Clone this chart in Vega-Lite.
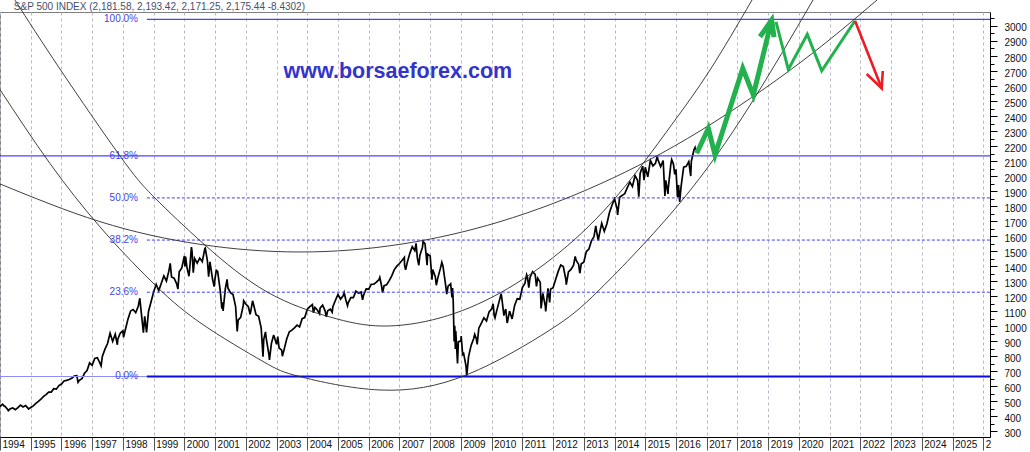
{
  "$schema": "https://vega.github.io/schema/vega-lite/v6.json",
  "autosize": {"type": "none"},
  "padding": {"left": 0, "top": 12, "right": 40, "bottom": 15},
  "width": 990,
  "height": 425,
  "background": "white",
  "resolve": {"axis": {"x": "independent", "y": "independent"}},
  "config": {"view": {"stroke": "#808080", "strokeWidth": 1},
    "axis": {"labelOverlap": false, "labelFlush": false, "title": null},
    "axisX": {"grid": true, "gridDash": [3, 3], "gridColor": "#b8b8c8", "gridWidth": 1, "tickSize": 13, "tickColor": "#555", "domainColor": "#000",
      "labelAlign": "left", "labelBaseline": "top", "labelPadding": -11, "labelOffset": 2, "labelFont": "Liberation Sans", "labelFontSize": 10, "labelColor": "#111"},
    "axisY": {"grid": false, "tickColor": "#000", "domainColor": "#000", "labelPadding": 7, "labelOffset": 2, "labelFont": "Liberation Sans", "labelFontSize": 10, "labelColor": "#111"}},
  "datasets": {
    "price": [
      {"t":1994.0,"v":466},{"t":1994.083,"v":481.6},{"t":1994.13,"v":470},{"t":1994.167,"v":467.1},{"t":1994.25,"v":445.8},{"t":1994.27,"v":438.9},{"t":1994.333,"v":450.9},{"t":1994.417,"v":456.5},{"t":1994.5,"v":444.3},{"t":1994.583,"v":458.3},{"t":1994.667,"v":475.5},{"t":1994.75,"v":462.7},{"t":1994.833,"v":472.4},{"t":1994.917,"v":453.7},{"t":1994.93,"v":449},{"t":1995.0,"v":459.3},
      {"t":1995.083,"v":470.4},{"t":1995.167,"v":487.4},{"t":1995.25,"v":500.7},{"t":1995.333,"v":514.7},{"t":1995.417,"v":533.4},{"t":1995.5,"v":544.8},{"t":1995.583,"v":562.1},{"t":1995.667,"v":561.9},{"t":1995.75,"v":584.4},{"t":1995.833,"v":581.5},{"t":1995.917,"v":605.4},{"t":1996.0,"v":615.9},
      {"t":1996.083,"v":636.0},{"t":1996.167,"v":640.4},{"t":1996.25,"v":645.5},{"t":1996.333,"v":654.2},{"t":1996.417,"v":669.1},{"t":1996.5,"v":670.6},{"t":1996.54,"v":626.7},{"t":1996.583,"v":639.9},{"t":1996.667,"v":652.0},{"t":1996.75,"v":687.3},{"t":1996.833,"v":705.3},{"t":1996.917,"v":757.0},{"t":1997.0,"v":740.7},
      {"t":1997.083,"v":786.2},{"t":1997.167,"v":790.8},{"t":1997.25,"v":757.1},{"t":1997.29,"v":737.7},{"t":1997.333,"v":801.3},{"t":1997.417,"v":848.3},{"t":1997.5,"v":885.1},{"t":1997.583,"v":954.3},{"t":1997.667,"v":899.5},{"t":1997.75,"v":947.3},{"t":1997.82,"v":877.0},{"t":1997.833,"v":914.6},{"t":1997.917,"v":955.4},{"t":1998.0,"v":970.4},
      {"t":1998.02,"v":927.7},{"t":1998.083,"v":980.3},{"t":1998.167,"v":1049.3},{"t":1998.25,"v":1101.8},{"t":1998.333,"v":1111.8},{"t":1998.417,"v":1090.8},{"t":1998.5,"v":1133.8},{"t":1998.55,"v":1186.8},{"t":1998.583,"v":1120.7},{"t":1998.667,"v":957.3},{"t":1998.71,"v":1066},{"t":1998.77,"v":959.4},{"t":1998.833,"v":1098.7},{"t":1998.917,"v":1163.6},{"t":1999.0,"v":1229.2},
      {"t":1999.083,"v":1279.6},{"t":1999.167,"v":1238.3},{"t":1999.25,"v":1286.4},{"t":1999.333,"v":1335.2},{"t":1999.417,"v":1301.8},{"t":1999.5,"v":1372.7},{"t":1999.54,"v":1418.8},{"t":1999.583,"v":1328.7},{"t":1999.667,"v":1320.4},{"t":1999.75,"v":1282.7},{"t":1999.79,"v":1247.4},{"t":1999.833,"v":1362.9},{"t":1999.917,"v":1389.0},{"t":2000.0,"v":1469.3},
      {"t":2000.02,"v":1399},{"t":2000.04,"v":1465},{"t":2000.083,"v":1394.5},{"t":2000.15,"v":1333.4},{"t":2000.167,"v":1366.4},{"t":2000.23,"v":1527.5},{"t":2000.25,"v":1498.6},{"t":2000.29,"v":1356.6},{"t":2000.333,"v":1452.4},{"t":2000.417,"v":1420.6},{"t":2000.5,"v":1454.6},{"t":2000.583,"v":1430.8},{"t":2000.667,"v":1517.7},{"t":2000.68,"v":1520.8},{"t":2000.75,"v":1436.5},{"t":2000.79,"v":1329.8},{"t":2000.833,"v":1429.4},{"t":2000.917,"v":1315.0},{"t":2000.97,"v":1264.7},{"t":2001.0,"v":1320.3},
      {"t":2001.04,"v":1373},{"t":2001.083,"v":1366.0},{"t":2001.167,"v":1239.9},{"t":2001.22,"v":1117.6},{"t":2001.25,"v":1160.3},{"t":2001.26,"v":1103},{"t":2001.333,"v":1249.5},{"t":2001.39,"v":1312.8},{"t":2001.417,"v":1255.8},{"t":2001.5,"v":1224.4},{"t":2001.583,"v":1211.2},{"t":2001.667,"v":1133.6},{"t":2001.72,"v":965.8},{"t":2001.75,"v":1040.9},{"t":2001.833,"v":1059.8},{"t":2001.917,"v":1139.5},{"t":2001.93,"v":1170},{"t":2002.0,"v":1148.1},
      {"t":2002.083,"v":1130.2},{"t":2002.14,"v":1080},{"t":2002.167,"v":1106.7},{"t":2002.22,"v":1170},{"t":2002.25,"v":1147.4},{"t":2002.333,"v":1076.9},{"t":2002.417,"v":1067.1},{"t":2002.5,"v":989.8},{"t":2002.56,"v":797.7},{"t":2002.583,"v":911.6},{"t":2002.64,"v":962.7},{"t":2002.667,"v":916.1},{"t":2002.75,"v":815.3},{"t":2002.77,"v":776.8},{"t":2002.833,"v":885.8},{"t":2002.9,"v":938},{"t":2002.917,"v":936.3},{"t":2003.0,"v":879.8},
      {"t":2003.04,"v":931.7},{"t":2003.083,"v":855.7},{"t":2003.167,"v":841.2},{"t":2003.19,"v":800.7},{"t":2003.25,"v":848.2},{"t":2003.333,"v":916.9},{"t":2003.417,"v":963.6},{"t":2003.5,"v":974.5},{"t":2003.583,"v":990.3},{"t":2003.667,"v":1008.0},{"t":2003.75,"v":996.0},{"t":2003.833,"v":1050.7},{"t":2003.917,"v":1058.2},{"t":2004.0,"v":1111.9},
      {"t":2004.083,"v":1131.1},{"t":2004.167,"v":1144.9},{"t":2004.2,"v":1091},{"t":2004.25,"v":1126.2},{"t":2004.333,"v":1107.3},{"t":2004.4,"v":1084},{"t":2004.417,"v":1120.7},{"t":2004.5,"v":1140.8},{"t":2004.583,"v":1101.7},{"t":2004.62,"v":1063.2},{"t":2004.667,"v":1104.2},{"t":2004.75,"v":1114.6},{"t":2004.81,"v":1094},{"t":2004.833,"v":1130.2},{"t":2004.917,"v":1173.8},{"t":2005.0,"v":1211.9},
      {"t":2005.083,"v":1181.3},{"t":2005.167,"v":1203.6},{"t":2005.2,"v":1225},{"t":2005.25,"v":1180.6},{"t":2005.31,"v":1137.5},{"t":2005.333,"v":1156.9},{"t":2005.417,"v":1191.5},{"t":2005.5,"v":1191.3},{"t":2005.583,"v":1234.2},{"t":2005.667,"v":1220.3},{"t":2005.75,"v":1228.8},{"t":2005.8,"v":1176.8},{"t":2005.833,"v":1207.0},{"t":2005.917,"v":1249.5},{"t":2006.0,"v":1248.3},
      {"t":2006.083,"v":1280.1},{"t":2006.167,"v":1280.7},{"t":2006.25,"v":1294.8},{"t":2006.333,"v":1310.6},{"t":2006.36,"v":1325.8},{"t":2006.417,"v":1270.1},{"t":2006.45,"v":1223.7},{"t":2006.5,"v":1270.2},{"t":2006.583,"v":1276.7},{"t":2006.667,"v":1303.8},{"t":2006.75,"v":1335.9},{"t":2006.833,"v":1377.9},{"t":2006.917,"v":1400.6},{"t":2007.0,"v":1418.3},
      {"t":2007.083,"v":1438.2},{"t":2007.16,"v":1459},{"t":2007.167,"v":1406.8},{"t":2007.2,"v":1377},{"t":2007.25,"v":1420.9},{"t":2007.333,"v":1482.4},{"t":2007.417,"v":1530.6},{"t":2007.5,"v":1503.4},{"t":2007.54,"v":1553},{"t":2007.583,"v":1455.3},{"t":2007.63,"v":1406.7},{"t":2007.667,"v":1474.0},{"t":2007.75,"v":1527.0},{"t":2007.77,"v":1565.2},{"t":2007.833,"v":1549.4},{"t":2007.9,"v":1407},{"t":2007.917,"v":1481.1},{"t":2008.0,"v":1468.4},
      {"t":2008.06,"v":1310.5},{"t":2008.083,"v":1378.6},{"t":2008.167,"v":1330.6},{"t":2008.2,"v":1273.4},{"t":2008.25,"v":1322.7},{"t":2008.333,"v":1385.6},{"t":2008.38,"v":1426.6},{"t":2008.417,"v":1400.4},{"t":2008.5,"v":1280.0},{"t":2008.54,"v":1214.9},{"t":2008.583,"v":1267.4},{"t":2008.667,"v":1282.8},{"t":2008.71,"v":1192.7},{"t":2008.73,"v":1255},{"t":2008.75,"v":1166.4},{"t":2008.78,"v":899.2},{"t":2008.8,"v":1003},{"t":2008.82,"v":848.9},{"t":2008.833,"v":968.8},{"t":2008.89,"v":752.4},{"t":2008.917,"v":896.2},{"t":2009.0,"v":903.3},
      {"t":2009.01,"v":934.7},{"t":2009.06,"v":805},{"t":2009.083,"v":825.9},{"t":2009.167,"v":735.1},{"t":2009.19,"v":672},{"t":2009.25,"v":797.9},{"t":2009.333,"v":872.8},{"t":2009.417,"v":919.1},{"t":2009.45,"v":946},{"t":2009.5,"v":919.3},{"t":2009.53,"v":879.1},{"t":2009.583,"v":987.5},{"t":2009.667,"v":1020.6},{"t":2009.75,"v":1057.1},{"t":2009.833,"v":1036.2},{"t":2009.917,"v":1095.6},{"t":2010.0,"v":1115.1},
      {"t":2010.05,"v":1150},{"t":2010.083,"v":1073.9},{"t":2010.11,"v":1056.7},{"t":2010.167,"v":1104.5},{"t":2010.25,"v":1169.4},{"t":2010.31,"v":1217},{"t":2010.333,"v":1186.7},{"t":2010.4,"v":1071.6},{"t":2010.417,"v":1089.4},{"t":2010.46,"v":1115},{"t":2010.5,"v":1030.7},{"t":2010.51,"v":1022.6},{"t":2010.583,"v":1101.6},{"t":2010.667,"v":1049.3},{"t":2010.75,"v":1141.2},{"t":2010.833,"v":1183.3},{"t":2010.917,"v":1180.6},{"t":2011.0,"v":1257.6},
      {"t":2011.083,"v":1286.1},{"t":2011.14,"v":1343},{"t":2011.167,"v":1327.2},{"t":2011.21,"v":1256.9},{"t":2011.25,"v":1325.8},{"t":2011.333,"v":1363.6},{"t":2011.417,"v":1345.2},{"t":2011.46,"v":1265.4},{"t":2011.5,"v":1320.6},{"t":2011.583,"v":1292.3},{"t":2011.61,"v":1119.5},{"t":2011.667,"v":1218.9},{"t":2011.75,"v":1131.4},{"t":2011.76,"v":1099.2},{"t":2011.833,"v":1253.3},{"t":2011.89,"v":1158.7},{"t":2011.917,"v":1247.0},{"t":2012.0,"v":1257.6},
      {"t":2012.083,"v":1312.4},{"t":2012.167,"v":1365.7},{"t":2012.25,"v":1408.5},{"t":2012.333,"v":1397.9},{"t":2012.417,"v":1310.3},{"t":2012.43,"v":1278},{"t":2012.5,"v":1362.2},{"t":2012.583,"v":1379.3},{"t":2012.667,"v":1406.6},{"t":2012.72,"v":1465.8},{"t":2012.75,"v":1440.7},{"t":2012.833,"v":1412.2},{"t":2012.87,"v":1353.3},{"t":2012.917,"v":1416.2},{"t":2013.0,"v":1426.2},
      {"t":2013.083,"v":1498.1},{"t":2013.167,"v":1514.7},{"t":2013.25,"v":1569.2},{"t":2013.333,"v":1597.6},{"t":2013.39,"v":1669},{"t":2013.417,"v":1630.7},{"t":2013.47,"v":1573},{"t":2013.5,"v":1606.3},{"t":2013.583,"v":1685.7},{"t":2013.667,"v":1633.0},{"t":2013.75,"v":1681.6},{"t":2013.833,"v":1756.5},{"t":2013.917,"v":1805.8},{"t":2014.0,"v":1848.4},
      {"t":2014.083,"v":1782.6},{"t":2014.1,"v":1741.9},{"t":2014.167,"v":1859.5},{"t":2014.25,"v":1872.3},{"t":2014.333,"v":1883.9},{"t":2014.417,"v":1923.6},{"t":2014.5,"v":1960.2},{"t":2014.583,"v":1930.7},{"t":2014.667,"v":2003.4},{"t":2014.75,"v":1972.3},{"t":2014.79,"v":1862.5},{"t":2014.833,"v":2018.1},{"t":2014.917,"v":2067.6},{"t":2014.96,"v":1972.7},{"t":2015.0,"v":2058.9},
      {"t":2015.083,"v":1995.0},{"t":2015.167,"v":2104.5},{"t":2015.25,"v":2067.9},{"t":2015.333,"v":2085.5},{"t":2015.39,"v":2130.8},{"t":2015.417,"v":2107.4},{"t":2015.5,"v":2063.1},{"t":2015.583,"v":2103.8},{"t":2015.64,"v":1867.6},{"t":2015.667,"v":1972.2},{"t":2015.74,"v":1881.8},{"t":2015.75,"v":1920.0},{"t":2015.833,"v":2079.4},{"t":2015.86,"v":2109.8},{"t":2015.917,"v":2080.4},{"t":2015.96,"v":2012},{"t":2016.0,"v":2043.9},
      {"t":2016.05,"v":1859.3},{"t":2016.083,"v":1940.2},{"t":2016.12,"v":1829.1},{"t":2016.167,"v":1932.2},{"t":2016.25,"v":2059.7},{"t":2016.333,"v":2065.3},{"t":2016.417,"v":2096.9},{"t":2016.48,"v":2000.5},{"t":2016.5,"v":2098.9},{"t":2016.583,"v":2173.6},{"t":2016.62,"v":2190},{"t":2016.632,"v":2175.4}
    ],
    "arcs": [
      {"arc":"a1","t":1994.0,"v":1948},{"arc":"a1","t":1997.255,"v":1697},{"arc":"a1","t":2000.509,"v":1546},{"arc":"a1","t":2003.764,"v":1495},{"arc":"a1","t":2007.019,"v":1546},{"arc":"a1","t":2010.273,"v":1697},{"arc":"a1","t":2013.528,"v":1948},{"arc":"a1","t":2016.783,"v":2301},{"arc":"a1","t":2020.037,"v":2755},{"arc":"a1","t":2022.543,"v":3173},
      {"arc":"a2","t":1994.488,"v":3172},{"arc":"a2","t":1995.953,"v":2713},{"arc":"a2","t":1997.906,"v":2134},{"arc":"a2","t":1999.045,"v":1854},{"arc":"a2","t":2000.672,"v":1541},{"arc":"a2","t":2002.69,"v":1229},{"arc":"a2","t":2004.74,"v":1062},{"arc":"a2","t":2006.433,"v":1002},{"arc":"a2","t":2008.32,"v":1056},{"arc":"a2","t":2010.273,"v":1222},{"arc":"a2","t":2012.226,"v":1495},{"arc":"a2","t":2014.08,"v":1868},{"arc":"a2","t":2015.806,"v":2327},{"arc":"a2","t":2017.108,"v":2707},{"arc":"a2","t":2018.475,"v":3173},
      {"arc":"a3","t":1994.0,"v":2576},{"arc":"a3","t":1995.627,"v":2084},{"arc":"a3","t":1997.255,"v":1662},{"arc":"a3","t":1998.882,"v":1308},{"arc":"a3","t":2000.509,"v":1025},{"arc":"a3","t":2002.56,"v":766},{"arc":"a3","t":2003.764,"v":665},{"arc":"a3","t":2006.368,"v":576},{"arc":"a3","t":2009.199,"v":678},{"arc":"a3","t":2011.9,"v":976},{"arc":"a3","t":2013.528,"v":1247},{"arc":"a3","t":2016.13,"v":1822},{"arc":"a3","t":2018.41,"v":2472},{"arc":"a3","t":2020.46,"v":3173}
    ],
    "fib": [
      {"lvl":"100.0%","v":3044},{"lvl":"61.8%","v":2135.6},{"lvl":"50.0%","v":1855},{"lvl":"38.2%","v":1574.4},{"lvl":"23.6%","v":1227.2},{"lvl":"0.0%","v":666}
    ],
    "proj": [
      {"seg":"g1","o":0,"t":2016.675,"v":2152},{"seg":"g1","o":1,"t":2017.053,"v":2318},{"seg":"g1","o":2,"t":2017.271,"v":2141},{"seg":"g1","o":3,"t":2018.173,"v":2718},{"seg":"g1","o":4,"t":2018.517,"v":2540},{"seg":"g1","o":5,"t":2019.116,"v":3040},
      {"seg":"g1h","o":0,"t":2018.735,"v":2928},{"seg":"g1h","o":1,"t":2019.116,"v":3040},{"seg":"g1h","o":2,"t":2019.19,"v":2926},
      {"seg":"g2","o":0,"t":2019.256,"v":3028},{"seg":"g2","o":1,"t":2019.656,"v":2711},{"seg":"g2","o":2,"t":2020.274,"v":2944},{"seg":"g2","o":3,"t":2020.743,"v":2702},{"seg":"g2","o":4,"t":2021.827,"v":3035},
      {"seg":"r1","o":0,"t":2021.827,"v":3035},{"seg":"r1","o":1,"t":2022.696,"v":2585},
      {"seg":"r1h","o":0,"t":2022.208,"v":2680},{"seg":"r1h","o":1,"t":2022.696,"v":2585},{"seg":"r1h","o":2,"t":2022.73,"v":2700}
    ]
  },
  "layer": [
    {"data": {"name": "price"},
     "mark": {"type": "line", "color": "#000", "strokeWidth": 1.7, "strokeJoin": "miter"},
     "encoding": {
      "x": {"field": "t", "type": "quantitative", "title": null,
        "scale": {"domain": [1994, 2026.22], "nice": false, "zero": false},
        "axis": {"values": [1994,1995,1996,1997,1998,1999,2000,2001,2002,2003,2004,2005,2006,2007,2008,2009,2010,2011,2012,2013,2014,2015,2016,2017,2018,2019,2020,2021,2022,2023,2024,2025,2026],
          "format": "d", "labelExpr": "datum.value == 2026 ? '2' : datum.label", "labelOverlap": false}},
      "y": {"field": "v", "type": "quantitative", "title": null,
        "scale": {"domain": [263, 3093], "nice": false, "zero": false},
        "axis": {"orient": "right",
          "values": [300,350,400,450,500,550,600,650,700,750,800,850,900,950,1000,1050,1100,1150,1200,1250,1300,1350,1400,1450,1500,1550,1600,1650,1700,1750,1800,1850,1900,1950,2000,2050,2100,2150,2200,2250,2300,2350,2400,2450,2500,2550,2600,2650,2700,2750,2800,2850,2900,2950,3000,3050],
          "format": "d", "labelExpr": "datum.value % 100 == 0 ? datum.label : ''", "labelOverlap": false,
          "tickSize": {"condition": {"test": "datum.value % 100 == 0", "value": 7}, "value": 4}}}
     }},
    {"data": {"name": "fib"}, "transform": [{"filter": "datum.lvl == '61.8%'"}],
     "mark": {"type": "rule", "color": "#4646ff", "strokeWidth": 1.3},
     "encoding": {"y": {"field": "v", "type": "quantitative", "axis": null}}},
    {"data": {"name": "fib"}, "transform": [{"filter": "datum.lvl == '0.0%'"}],
     "mark": {"type": "rule", "color": "#8c8cff", "strokeWidth": 1.2},
     "encoding": {"y": {"field": "v", "type": "quantitative", "axis": null}}},
    {"data": {"name": "fib"}, "transform": [{"filter": "datum.lvl == '0.0%'"}],
     "mark": {"type": "rule", "color": "#0a0ae6", "strokeWidth": 2.2},
     "encoding": {"x": {"datum": 1998.78, "type": "quantitative", "axis": null}, "x2": {"datum": 2026.22}, "y": {"field": "v", "type": "quantitative", "axis": null}}},
    {"data": {"name": "fib"}, "transform": [{"filter": "datum.lvl == '100.0%'"}],
     "mark": {"type": "rule", "color": "#4646ff", "strokeWidth": 1.3},
     "encoding": {"x": {"datum": 1998.78, "type": "quantitative", "axis": null}, "x2": {"datum": 2026.22}, "y": {"field": "v", "type": "quantitative", "axis": null}}},
    {"data": {"name": "fib"}, "transform": [{"filter": "datum.lvl == '50.0%' || datum.lvl == '38.2%' || datum.lvl == '23.6%'"}],
     "mark": {"type": "rule", "color": "#3c3cff", "strokeWidth": 1, "strokeDash": [3, 2]},
     "encoding": {"x": {"datum": 1998.78, "type": "quantitative", "axis": null}, "x2": {"datum": 2026.22}, "y": {"field": "v", "type": "quantitative", "axis": null}}},
    {"data": {"name": "fib"},
     "mark": {"type": "text", "align": "right", "baseline": "middle", "font": "Liberation Sans", "fontSize": 10, "color": "#4444ee"},
     "encoding": {"x": {"datum": 1998.49, "type": "quantitative", "axis": null}, "y": {"field": "v", "type": "quantitative", "axis": null}, "text": {"field": "lvl"}}},
    {"data": {"name": "arcs"},
     "mark": {"type": "line", "color": "#2a2a2a", "strokeWidth": 0.9, "interpolate": "natural", "clip": false},
     "encoding": {"x": {"field": "t", "type": "quantitative", "axis": null}, "y": {"field": "v", "type": "quantitative", "axis": null}, "detail": {"field": "arc"}}},
    {"data": {"name": "proj"}, "transform": [{"filter": "datum.seg == 'g1' || datum.seg == 'g1h'"}],
     "mark": {"type": "line", "color": "#22b14c", "strokeWidth": 5, "strokeJoin": "miter"},
     "encoding": {"x": {"field": "t", "type": "quantitative", "axis": null}, "y": {"field": "v", "type": "quantitative", "axis": null}, "detail": {"field": "seg"}, "order": {"field": "o"}}},
    {"data": {"name": "proj"}, "transform": [{"filter": "datum.seg == 'g2'"}],
     "mark": {"type": "line", "color": "#22b14c", "strokeWidth": 3},
     "encoding": {"x": {"field": "t", "type": "quantitative", "axis": null}, "y": {"field": "v", "type": "quantitative", "axis": null}, "detail": {"field": "seg"}, "order": {"field": "o"}}},
    {"data": {"name": "proj"}, "transform": [{"filter": "datum.seg == 'r1' || datum.seg == 'r1h'"}],
     "mark": {"type": "line", "color": "#ed1c24", "strokeWidth": 2.6},
     "encoding": {"x": {"field": "t", "type": "quantitative", "axis": null}, "y": {"field": "v", "type": "quantitative", "axis": null}, "detail": {"field": "seg"}, "order": {"field": "o"}}},
    {"data": {"values": [{"txt": "www.borsaeforex.com"}]},
     "mark": {"type": "text", "align": "center", "baseline": "middle", "font": "Liberation Sans", "fontSize": 21.5, "fontWeight": "bold", "color": "#3434cc"},
     "encoding": {"x": {"datum": 2006.95, "type": "quantitative", "axis": null}, "y": {"datum": 2693, "type": "quantitative", "axis": null}, "text": {"field": "txt"}}},
    {"data": {"values": [{"txt": "S&P 500 INDEX (2,181.58, 2,193.42, 2,171.25, 2,175.44 -8.4302)"}]},
     "mark": {"type": "text", "align": "left", "baseline": "middle", "font": "Liberation Sans", "fontSize": 10, "color": "#46506a", "clip": false},
     "encoding": {"x": {"datum": 1994.45, "type": "quantitative", "axis": null}, "y": {"datum": 3127, "type": "quantitative", "axis": null}, "text": {"field": "txt"}}}
  ]
}
